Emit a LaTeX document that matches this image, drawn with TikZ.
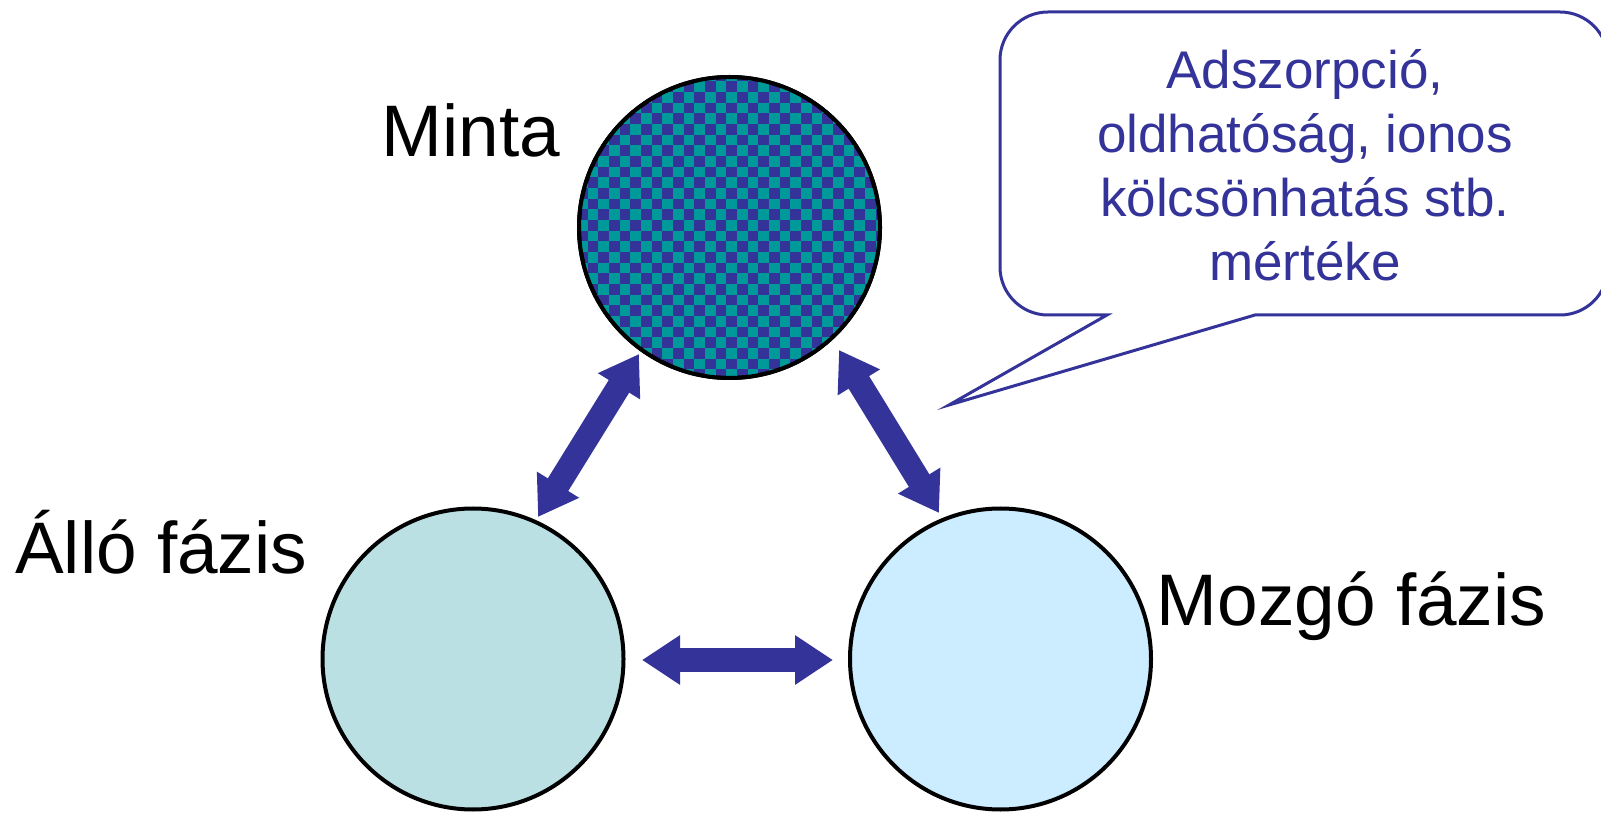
\documentclass[tikz,border=0pt]{standalone}
\usepackage{fontspec}
\setmainfont{Liberation Sans}
\usetikzlibrary{arrows.meta}
\definecolor{navy}{HTML}{333399}
\definecolor{tealc}{HTML}{009999}
\definecolor{stationary}{HTML}{BBE0E3}
\definecolor{mobile}{HTML}{CCECFF}

\begin{document}
\begin{tikzpicture}[x=1pt,y=1pt,
  phase/.style={circle, draw=black, line width=4pt, minimum size=301pt, inner sep=0pt},
  phaselabel/.style={anchor=base west, inner sep=0pt, font=\fontsize{73}{80}\selectfont},
  link/.style={navy, line width=24pt,
    {Triangle[length=38pt,width=47pt]}-{Triangle[length=38pt,width=47pt]}},
  bubble/.style={navy, line width=3pt, fill=white, line join=miter}
]
\useasboundingbox (0,0) rectangle (1601,812);

% sample: checkered disc
\node[phase, fill=navy] (minta) at (729.5,584.5) {};
\begin{scope}
  \clip (minta.center) circle (150.5);
  \foreach \a in {0,2,...,28}
    \foreach \b in {0,2,...,28} {
      \fill[tealc] (577+\a*10.67, 432+\b*10.67) rectangle ++(10.67,10.67);
      \fill[tealc] (587.67+\a*10.67, 442.67+\b*10.67) rectangle ++(10.67,10.67);
    }
\end{scope}
\draw[line width=4pt] (minta.center) circle (150.5);

% stationary and mobile phases
\node[phase, fill=stationary] (allo) at (473,153) {};
\node[phase, fill=mobile] (mozgo) at (1000.5,153) {};

% labels
\node[phaselabel] (mintaL) at (381.5,655) {Minta};
\node[phaselabel] (alloL) at (15,239) {Álló fázis};
\node[phaselabel] (mozgoL) at (1156.5,187) {Mozgó fázis};

% interaction arrows
\coordinate (ma) at (639,458);
\coordinate (am) at (538,295);
\coordinate (mm) at (839,462);
\coordinate (mz) at (939,299);
\coordinate (az) at (642,152);
\coordinate (za) at (833,152);
\draw[link] (ma) -- (am);
\draw[link] (mm) -- (mz);
\draw[link] (az) -- (za);

% speech bubble
\coordinate (tip) at (949,407);
\draw[bubble] (1107,497) -- (tip) -- (1255,497) -- (1560,497)
  arc[start angle=270, end angle=360, radius=48] -- (1608,752)
  arc[start angle=0, end angle=90, radius=48] -- (1048,800)
  arc[start angle=90, end angle=180, radius=48] -- (1000,545)
  arc[start angle=180, end angle=270, radius=48] -- cycle;
\node[text=navy, font=\fontsize{53}{64.3}\selectfont, align=center, anchor=base, inner sep=0pt]
  (note) at (1305,531) {Adszorpció,\\oldhatóság, ionos\\kölcsönhatás stb.\\mértéke};
\end{tikzpicture}
\end{document}
